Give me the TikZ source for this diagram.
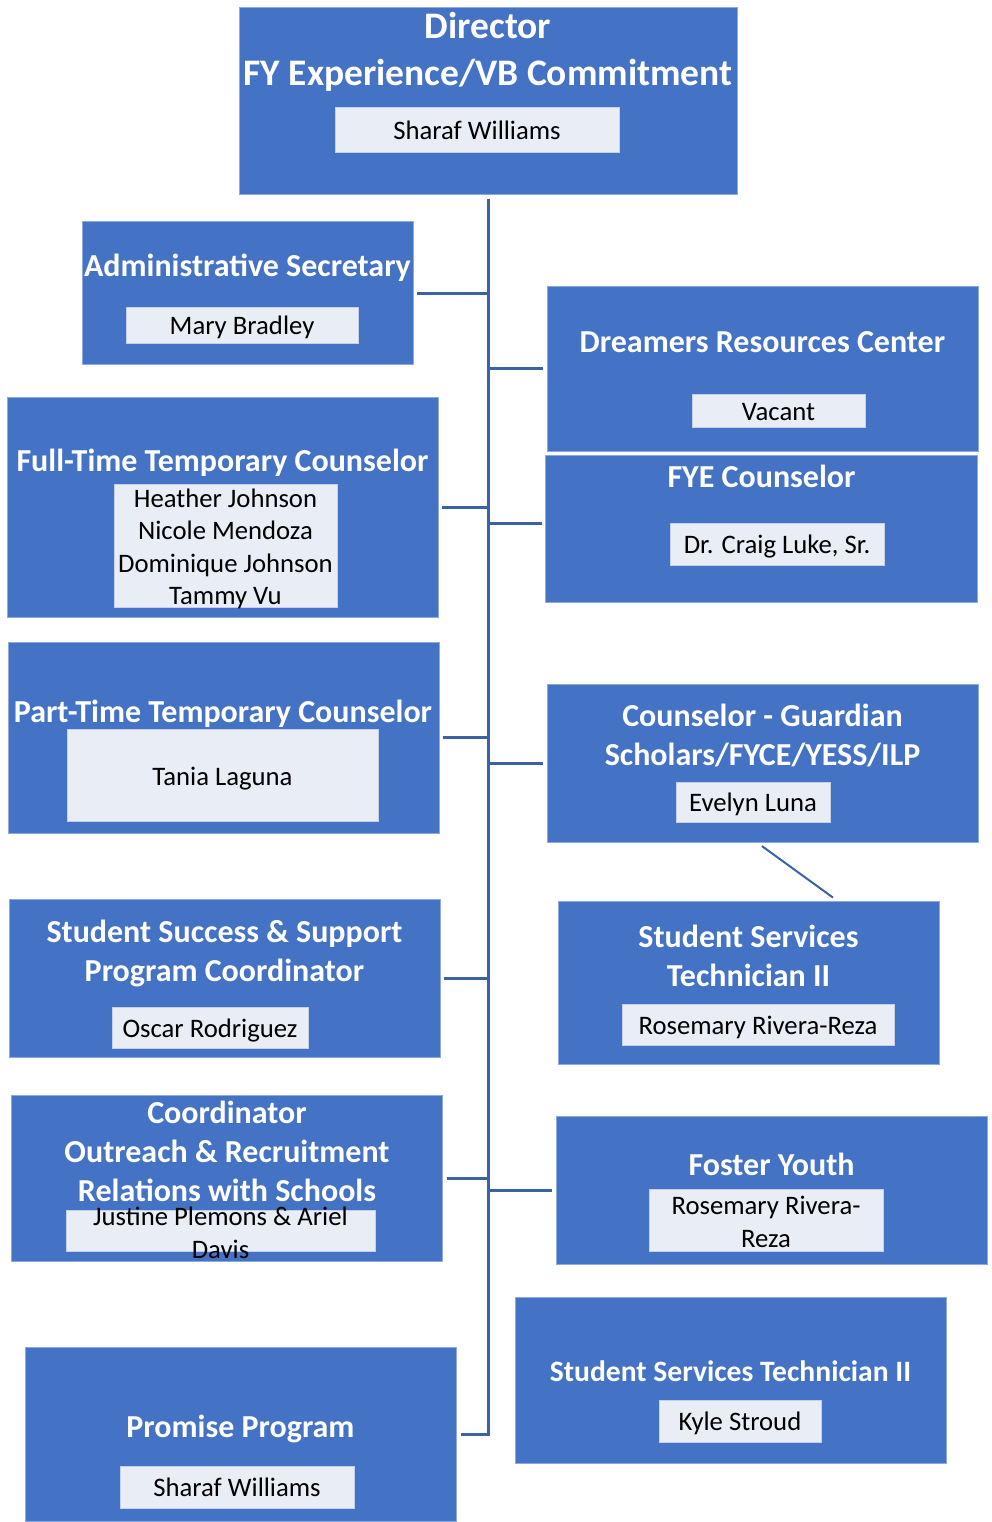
\documentclass[tikz,border=0pt]{standalone}
\usepackage{fontspec}
\setmainfont{Carlito}
\definecolor{boxblue}{HTML}{4472C4}
\definecolor{boxedge}{HTML}{8EA9DB}
\definecolor{namefill}{HTML}{E9EDF5}
\definecolor{nameedge}{HTML}{C5D0E6}
\definecolor{linkblue}{HTML}{3C62A6}
\begin{document}
\begin{tikzpicture}[x=1pt,y=-1pt,
  unit/.style={draw=boxedge, line width=1pt, fill=boxblue, inner sep=0pt},
  ttl/.style={text=white, font=\fontsize{32}{39}\selectfont\bfseries, align=center, inner sep=0pt},
  smallttl/.style={text=white, font=\fontsize{29.6}{37}\selectfont\bfseries, align=center, inner sep=0pt},
  bigttl/.style={text=white, font=\fontsize{37.5}{47}\selectfont\bfseries, align=center, inner sep=0pt},
  nm/.style={draw=nameedge, line width=0.8pt, fill=namefill, inner sep=0pt},
  nmtext/.style={inner sep=0pt, font=\fontsize{26.7}{32.4}\selectfont, align=center},
  link/.style={draw=linkblue, line width=3pt},
  diag/.style={draw=linkblue, line width=2pt}]
\useasboundingbox (0,0) rectangle (991,1522);
\fill[white] (0,0) rectangle (991,1522);

% Director
\node[unit, minimum width=498pt, minimum height=187pt] (dir) at (488,101.5) {};
\node[bigttl] (dirt) at (488,51.5) {Director\\FY Experience/VB Commitment};
\node[nm, minimum width=284pt, minimum height=45pt] (dirn) at (477,129.5) {};
\node[nmtext] (dirnt) at (477,130.5) {Sharaf Williams};

% Administrative Secretary
\node[unit, minimum width=331pt, minimum height=142pt] (admin) at (247.5,293) {};
\node[ttl] (admint) at (247.5,268) {Administrative Secretary};
\node[nm, minimum width=232pt, minimum height=36pt] (adminn) at (242,325) {};
\node[nmtext] (adminnt) at (242,327) {Mary Bradley};

% Dreamers Resources Center
\node[unit, minimum width=431pt, minimum height=165pt] (drc) at (762.5,368.5) {};
\node[ttl] (drct) at (762.5,342) {Dreamers Resources Center};
\node[nm, minimum width=173pt, minimum height=33pt] (drcn) at (778.5,410.5) {};
\node[nmtext] (drcnt) at (778.5,412.5) {Vacant};

% FYE Counselor
\node[unit, minimum width=432pt, minimum height=147pt] (fye) at (761,528.5) {};
\node[ttl] (fyet) at (761.5,476) {FYE Counselor};
\node[nm, minimum width=214pt, minimum height=42pt] (fyen) at (777,544) {};
\node[nmtext] (fyent) at (777,547) {Dr. Craig Luke, Sr.};

% Full-Time Temporary Counselor
\node[unit, minimum width=431pt, minimum height=220pt] (ft) at (222.5,507) {};
\node[ttl] (ftt) at (222.5,463) {Full-Time Temporary Counselor};
\node[nm, minimum width=223pt, minimum height=123pt] (ftn) at (225.5,545.5) {};
\node[nmtext] (ftnt) at (225.5,549) {Heather Johnson\\Nicole Mendoza\\Dominique Johnson\\Tammy Vu};

% Part-Time Temporary Counselor
\node[unit, minimum width=431pt, minimum height=191pt] (pt) at (223.5,737.5) {};
\node[ttl] (ptt) at (223,714) {Part-Time Temporary Counselor};
\node[nm, minimum width=311pt, minimum height=92pt] (ptn) at (222.5,775) {};
\node[nmtext] (ptnt) at (222.5,779) {Tania Laguna};

% Counselor - Guardian Scholars
\node[unit, minimum width=431pt, minimum height=158pt] (gs) at (762.5,763) {};
\node[ttl] (gst) at (762.5,735.5) {Counselor - Guardian\\Scholars/FYCE/YESS/ILP};
\node[nm, minimum width=154pt, minimum height=40pt] (gsn) at (753,802) {};
\node[nmtext] (gsnt) at (753,804) {Evelyn Luna};

% Student Services Technician II (1)
\node[unit, minimum width=381pt, minimum height=163pt] (sst1) at (748.5,982.5) {};
\node[ttl] (sst1t) at (748.5,955.5) {Student Services\\Technician II};
\node[nm, minimum width=272pt, minimum height=41pt] (sst1n) at (758,1024.5) {};
\node[nmtext] (sst1nt) at (758,1027.5) {Rosemary Rivera-Reza};

% Student Success & Support Program Coordinator
\node[unit, minimum width=431pt, minimum height=158pt] (sssp) at (224.5,978) {};
\node[ttl] (ssspt) at (224.5,953.5) {Student Success \& Support\\Program Coordinator};
\node[nm, minimum width=196pt, minimum height=41pt] (ssspn) at (210,1027.5) {};
\node[nmtext] (ssspnt) at (210,1030.5) {Oscar Rodriguez};

% Coordinator Outreach & Recruitment
\node[unit, minimum width=431pt, minimum height=166pt] (orc) at (226.5,1178) {};
\node[ttl] (orct) at (227,1151) {Coordinator\\Outreach \& Recruitment\\Relations with Schools};
\node[nm, minimum width=309pt, minimum height=41pt] (orcn) at (220.5,1230.5) {};
\node[nmtext] (orcnt) at (220.5,1233) {Justine Plemons \& Ariel\\Davis};

% Foster Youth
\node[unit, minimum width=431pt, minimum height=148pt] (foster) at (771.5,1190) {};
\node[ttl] (fostert) at (771.5,1164) {Foster Youth};
\node[nm, minimum width=234pt, minimum height=62pt] (fostern) at (766,1220) {};
\node[nmtext] (fosternt) at (766,1222) {Rosemary Rivera-\\Reza};

% Student Services Technician II (2)
\node[unit, minimum width=431pt, minimum height=166pt] (sst2) at (730.5,1380) {};
\node[smallttl] (sst2t) at (730.5,1371) {Student Services Technician II};
\node[nm, minimum width=162pt, minimum height=42pt] (sst2n) at (740,1421) {};
\node[nmtext] (sst2nt) at (740,1423) {Kyle Stroud};

% Promise Program
\node[unit, minimum width=431pt, minimum height=174pt] (prom) at (240.5,1434) {};
\node[ttl] (promt) at (240.5,1429) {Promise Program};
\node[nm, minimum width=234pt, minimum height=42pt] (promn) at (237,1487) {};
\node[nmtext] (promnt) at (237,1487.5) {Sharaf Williams};

% Connectors
\coordinate (tbot) at (488,1434);
\draw[link, shorten <=4pt, shorten >=-1.5pt] (dir.south) -- (tbot);
\draw[link, shorten <=3pt] (admin.east) -- (admin.east -| tbot);
\draw[link, shorten <=4pt] (drc.west) -- (drc.west -| tbot);
\draw[link, shorten <=3pt] (ft.east) -- (ft.east -| tbot);
\draw[link, shorten <=3pt] ([yshift=5.5pt]fye.west) -- ([yshift=5.5pt]fye.west -| tbot);
\draw[link, shorten <=3pt] (pt.east) -- (pt.east -| tbot);
\draw[link, shorten <=4pt] (gs.west) -- (gs.west -| tbot);
\draw[link, shorten <=3pt] (sssp.east) -- (sssp.east -| tbot);
\draw[link, shorten <=4pt] (orc.east) -- (orc.east -| tbot);
\draw[link, shorten <=4pt] (foster.west) -- (foster.west -| tbot);
\draw[link, shorten <=4pt, shorten >=-1.5pt] (prom.east) -- (tbot);
\draw[diag, shorten <=6pt, shorten >=5pt] ([xshift=-5.5pt]gs.south) -- ([xshift=88.5pt]sst1.north);
\end{tikzpicture}
\end{document}
